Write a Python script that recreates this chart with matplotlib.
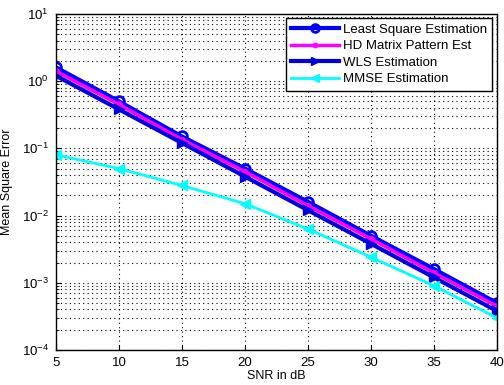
import matplotlib
matplotlib.use("Agg")
import matplotlib.pyplot as plt
from matplotlib.ticker import LogLocator, NullFormatter

plt.rcParams["font.family"] = ["Liberation Sans", "DejaVu Sans"]
plt.rcParams["mathtext.fontset"] = "custom"
plt.rcParams["mathtext.rm"] = "Liberation Sans"

snr = [5, 10, 15, 20, 25, 30, 35, 40]
ls_est = [1.6, 0.5, 0.15, 0.05, 0.016, 0.005, 0.0016, 0.0005]
hd_est = [1.4, 0.45, 0.135, 0.045, 0.014, 0.0045, 0.0014, 0.00045]
wls_est = [1.2, 0.38, 0.12, 0.038, 0.012, 0.0038, 0.0012, 0.00038]
mmse_est = [0.08, 0.05, 0.028, 0.015, 0.0063, 0.0024, 0.0009, 0.0003]

fig = plt.figure(figsize=(5.04, 3.85), dpi=100, facecolor="white")
ax = fig.add_axes([0.111, 0.091, 0.875, 0.873])

ax.semilogy(snr, ls_est, color="#0000ff", lw=3, marker="o", ms=7, mfc="none",
            mew=2, label="Least Square Estimation")
ax.semilogy(snr, hd_est, color="#ff00ff", lw=2.5, marker=".", ms=8,
            label="HD Matrix Pattern Est")
ax.semilogy(snr, wls_est, color="#0000dd", lw=3, marker=">", ms=7,
            label="WLS Estimation")
ax.semilogy(snr, mmse_est, color="#00ffff", lw=2, marker="<", ms=7,
            label="MMSE Estimation")

ax.set_xlim(5, 40)
ax.set_ylim(1e-4, 1e1)
ax.set_xticks(snr)
ax.yaxis.set_major_locator(LogLocator(base=10, numticks=10))
ax.yaxis.set_minor_locator(LogLocator(base=10, subs=range(2, 10), numticks=20))
ax.yaxis.set_minor_formatter(NullFormatter())
ax.grid(True, which="major", ls=(0, (1, 3)), color="black", lw=0.8)
ax.grid(True, which="minor", axis="y", ls=(0, (1, 3)), color="black", lw=0.8)
ax.tick_params(labelsize=9.5, direction="in", which="both", pad=5)
for s in ax.spines.values():
    s.set_linewidth(1)

ax.set_xlabel("SNR in dB", fontsize=9, labelpad=1)
ax.set_ylabel("Mean Square Error", fontsize=9, labelpad=6)

leg = ax.legend(loc="upper right", fontsize=9.5, fancybox=False, edgecolor="black",
                framealpha=1, handlelength=3.6, borderpad=0.4, labelspacing=0.32,
                borderaxespad=0.35, markerscale=0.8, handletextpad=0.3)
leg.get_frame().set_linewidth(1)

fig.savefig("out.png", dpi=100)
